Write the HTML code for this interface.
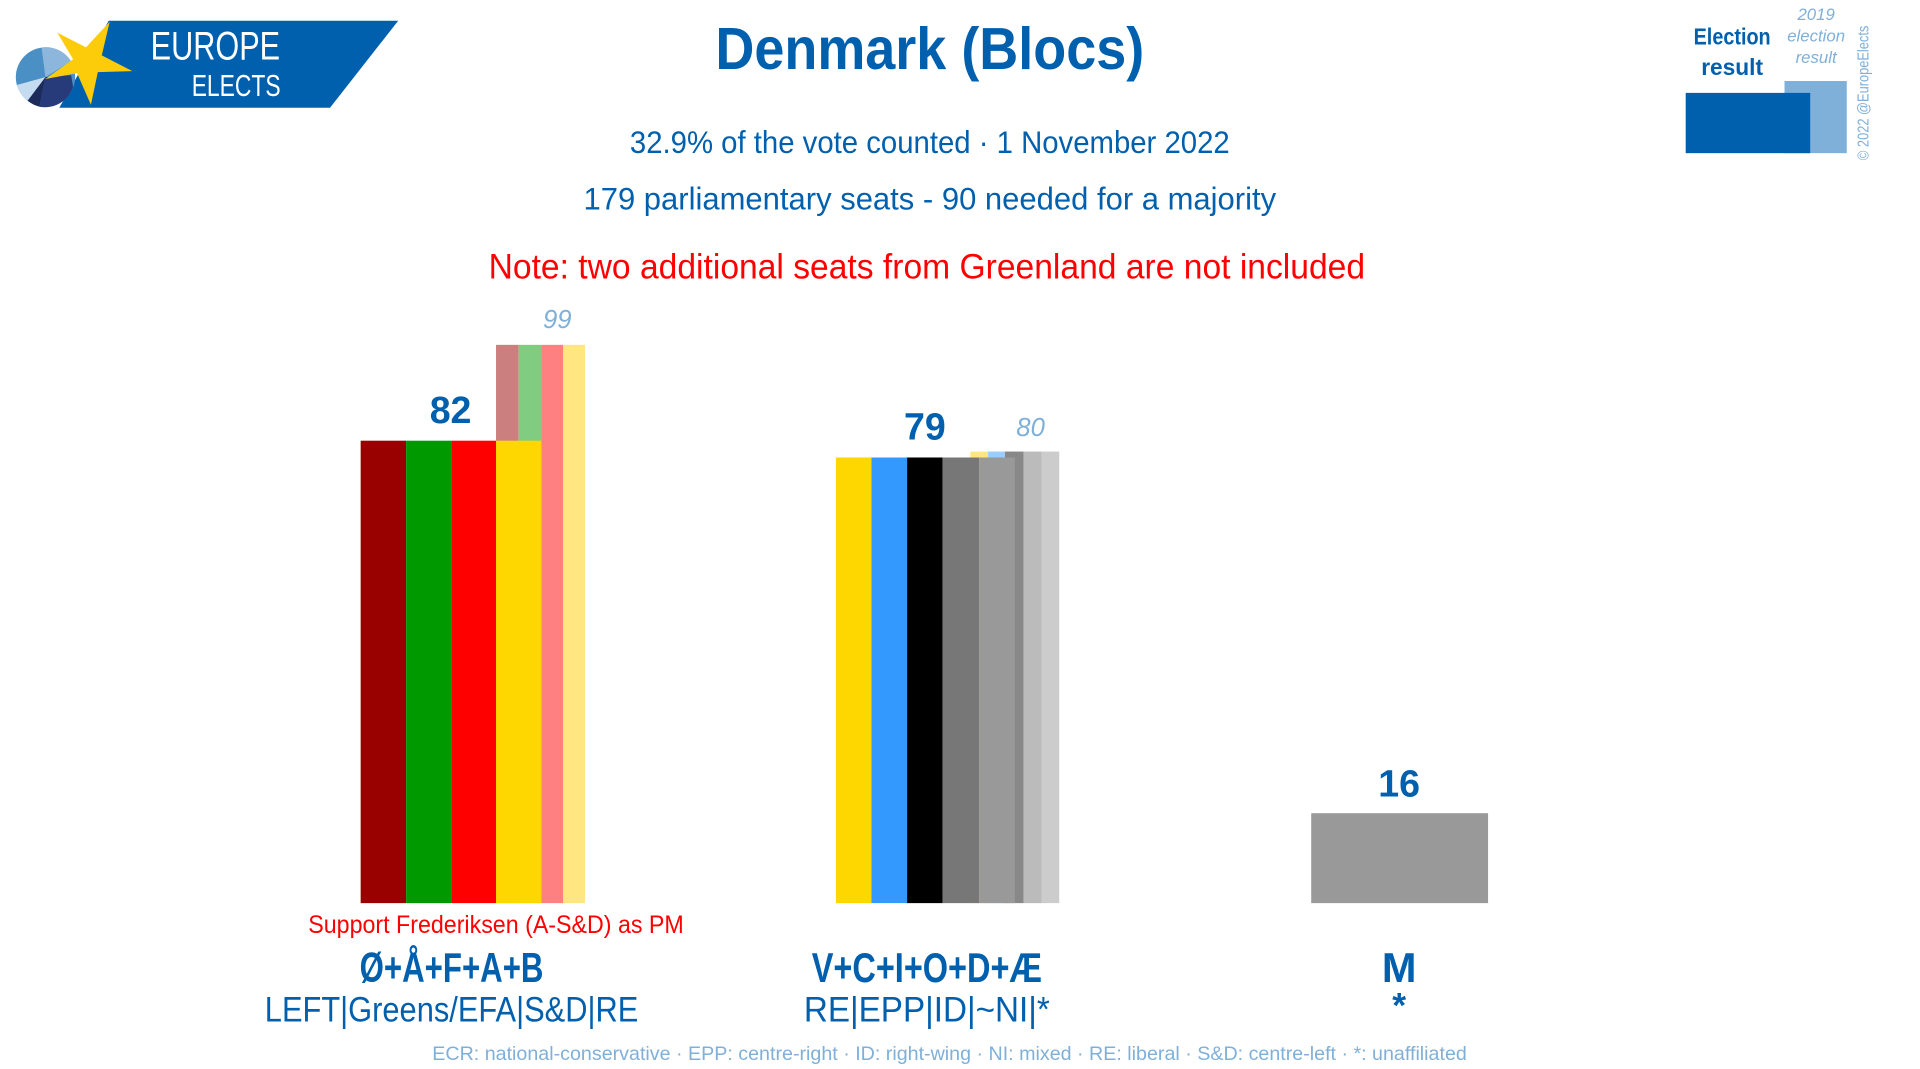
<!DOCTYPE html>
<html><head><meta charset="utf-8"><style>
body{margin:0;background:#fff;}
svg{display:block;font-family:"Liberation Sans Narrow","Liberation Sans",sans-serif;}
</style></head><body>
<svg width="1920" height="1069" viewBox="0 0 1920 1069" xmlns="http://www.w3.org/2000/svg">
<g transform="scale(0.9881)">
<!-- logo -->
<polygon points="110,21 403,21 334,109 60,109" fill="#0060ae"/>
<circle cx="46" cy="78" r="30" fill="#4a90c4"/>
<path d="M46,78 L42,48 A30,30 0 0 1 72,62 Z" fill="#8cb6dc"/>
<path d="M46,78 L17,86 A30,30 0 0 0 28,102 Z" fill="#c5dcf0"/>
<path d="M46,78 L28,102 A30,30 0 0 0 40,108 Z" fill="#1c2b5a"/>
<path d="M46,78 L40,108 A30,30 0 0 0 74,88 L72,76 Z" fill="#273a7a"/>
<polygon points="111,22 103,56 134,72 99,73 92,106 78,74 46,80 74,60 58,33 87,48" fill="#fccc0a"/>
<text x="218" y="60" font-size="40" fill="#fff" text-anchor="middle" textLength="131" lengthAdjust="spacingAndGlyphs">EUROPE</text>
<text x="239" y="97" font-size="31" fill="#fff" text-anchor="middle" textLength="90" lengthAdjust="spacingAndGlyphs">ELECTS</text>
<!-- titles -->
<text x="941" y="70" font-size="60" font-weight="bold" fill="#0060ae" text-anchor="middle" textLength="434" lengthAdjust="spacingAndGlyphs">Denmark (Blocs)</text>
<text x="941" y="155" font-size="32" fill="#0060ae" text-anchor="middle" textLength="607" lengthAdjust="spacingAndGlyphs">32.9% of the vote counted · 1 November 2022</text>
<text x="941" y="212" font-size="32" fill="#0060ae" text-anchor="middle" textLength="701" lengthAdjust="spacingAndGlyphs">179 parliamentary seats - 90 needed for a majority</text>
<text x="938" y="282" font-size="36" fill="#ff0000" text-anchor="middle" textLength="887" lengthAdjust="spacingAndGlyphs">Note: two additional seats from Greenland are not included</text>
<!-- legend -->
<text x="1753" y="45" font-size="23" font-weight="bold" fill="#0060ae" text-anchor="middle" textLength="78" lengthAdjust="spacingAndGlyphs">Election</text>
<text x="1753" y="76" font-size="23" font-weight="bold" fill="#0060ae" text-anchor="middle">result</text>
<text x="1838" y="20" font-size="17" font-style="italic" fill="#7fb0d9" text-anchor="middle">2019</text>
<text x="1838" y="42" font-size="17" font-style="italic" fill="#7fb0d9" text-anchor="middle">election</text>
<text x="1838" y="64" font-size="17" font-style="italic" fill="#7fb0d9" text-anchor="middle">result</text>
<rect x="1806" y="82" width="63" height="73" fill="#7fb0d9"/>
<rect x="1706" y="94" width="126" height="61" fill="#0060ae"/>
<text transform="translate(1891,162) rotate(-90)" font-size="16" fill="#7fb0d9" textLength="136" lengthAdjust="spacingAndGlyphs">© 2022 @EuropeElects</text>
<!-- bloc 1 -->
<rect x="502" y="349" width="23" height="565" fill="#cc7f7f"/>
<rect x="525" y="349" width="23" height="565" fill="#80cc80"/>
<rect x="548" y="349" width="22" height="565" fill="#ff8080"/>
<rect x="570" y="349" width="22" height="565" fill="#ffe680"/>
<rect x="365" y="446" width="46" height="468" fill="#990000"/>
<rect x="411" y="446" width="46" height="468" fill="#009900"/>
<rect x="457" y="446" width="45" height="468" fill="#ff0000"/>
<rect x="502" y="446" width="46" height="468" fill="#ffd700"/>
<text x="456" y="428" font-size="38" font-weight="bold" fill="#0060ae" text-anchor="middle">82</text>
<text x="564" y="332" font-size="26" font-style="italic" fill="#7fb0d9" text-anchor="middle">99</text>
<!-- bloc 2 -->
<rect x="982" y="457" width="18" height="457" fill="#ffe680"/>
<rect x="1000" y="457" width="17" height="457" fill="#99ccff"/>
<rect x="1017" y="457" width="19" height="457" fill="#888"/>
<rect x="1036" y="457" width="18" height="457" fill="#bbb"/>
<rect x="1054" y="457" width="18" height="457" fill="#ccc"/>
<rect x="846" y="463" width="36" height="451" fill="#ffd700"/>
<rect x="882" y="463" width="36" height="451" fill="#3399ff"/>
<rect x="918" y="463" width="36" height="451" fill="#000"/>
<rect x="954" y="463" width="37" height="451" fill="#777"/>
<rect x="991" y="463" width="36" height="451" fill="#999"/>
<text x="936" y="445" font-size="38" font-weight="bold" fill="#0060ae" text-anchor="middle">79</text>
<text x="1043" y="441" font-size="26" font-style="italic" fill="#7fb0d9" text-anchor="middle">80</text>
<!-- bloc 3 -->
<rect x="1327" y="823" width="179" height="91" fill="#999"/>
<text x="1416" y="806" font-size="38" font-weight="bold" fill="#0060ae" text-anchor="middle">16</text>
<!-- labels -->
<text x="502" y="944" font-size="25" fill="#ff0000" text-anchor="middle" textLength="380" lengthAdjust="spacingAndGlyphs">Support Frederiksen (A-S&amp;D) as PM</text>
<text x="457" y="994" font-size="42" font-weight="bold" fill="#0060ae" text-anchor="middle" textLength="186" lengthAdjust="spacingAndGlyphs">Ø+Å+F+A+B</text>
<text x="457" y="1034" font-size="36" fill="#0060ae" text-anchor="middle" textLength="378" lengthAdjust="spacingAndGlyphs">LEFT|Greens/EFA|S&amp;D|RE</text>
<text x="938" y="994" font-size="42" font-weight="bold" fill="#0060ae" text-anchor="middle" textLength="233" lengthAdjust="spacingAndGlyphs">V+C+I+O+D+Æ</text>
<text x="938" y="1034" font-size="36" fill="#0060ae" text-anchor="middle" textLength="249" lengthAdjust="spacingAndGlyphs">RE|EPP|ID|~NI|*</text>
<text x="1416" y="994" font-size="42" font-weight="bold" fill="#0060ae" text-anchor="middle">M</text>
<text x="1416" y="1030" font-size="36" font-weight="bold" fill="#0060ae" text-anchor="middle">*</text>
<text x="961" y="1073" font-size="20" fill="#7fb0d9" text-anchor="middle" textLength="1047" lengthAdjust="spacingAndGlyphs">ECR: national-conservative · EPP: centre-right · ID: right-wing · NI: mixed · RE: liberal · S&amp;D: centre-left · *: unaffiliated</text>
</g>
</svg>
</body></html>
